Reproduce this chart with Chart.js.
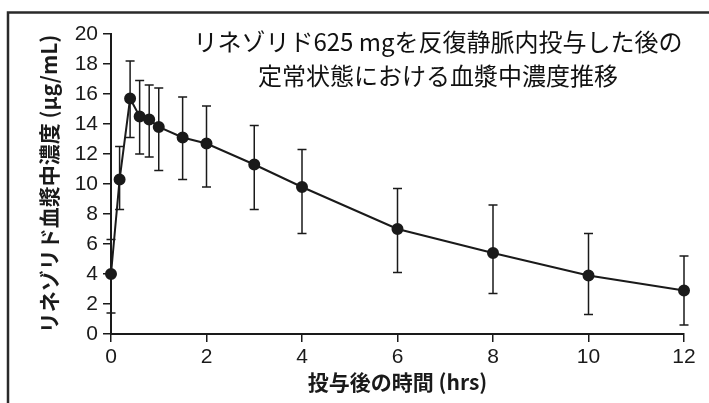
<!DOCTYPE html>
<html>
<head>
<meta charset="utf-8">
<script src="https://cdn.jsdelivr.net/npm/chart.js@4.4.1/dist/chart.umd.min.js"></script>
<style>
  html, body { margin: 0; padding: 0; background: #fff; }
  #wrap { width: 709px; height: 403px; position: relative; }
</style>
</head>
<body>
<div id="wrap"><canvas id="chart" width="709" height="403"></canvas></div>
<script>
// hours after dose
const times = [0, 0.18, 0.4, 0.6, 0.8, 1, 1.5, 2, 3, 4, 6, 8, 10, 12];
// mean concentration (ug/mL)
const means = [4.0, 10.3, 15.7, 14.5, 14.3, 13.8, 13.1, 12.7, 11.3, 9.8, 7.0, 5.4, 3.9, 2.9];
// error bar ends
const upper = [6.3, 12.5, 18.2, 16.9, 16.6, 16.4, 15.8, 15.2, 13.9, 12.3, 9.7, 8.6, 6.7, 5.2];
const lower = [1.4, 8.3, 13.1, 12.0, 11.8, 10.9, 10.3, 9.8, 8.3, 6.7, 4.1, 2.7, 1.3, 0.6];

const titleLines = ['リネゾリド625 mgを反復静脈内投与した後の', '定常状態における血漿中濃度推移'];
const xTitle = '投与後の時間 (hrs)';
const yTitle = 'リネゾリド血漿中濃度 (μg/mL)';

const ink = '#1a1a1a';
const jp = '"Noto Sans CJK JP", "Noto Sans", sans-serif';
const num = '"Liberation Sans", Arial, sans-serif';

const errorBars = {
  id: 'errorBars',
  beforeDatasetsDraw(chart) {
    const { ctx, scales: { x, y } } = chart;
    ctx.save();
    ctx.strokeStyle = ink;
    ctx.lineWidth = 1.5;
    times.forEach((t, i) => {
      const px = x.getPixelForValue(t);
      const top = y.getPixelForValue(upper[i]);
      const bot = y.getPixelForValue(lower[i]);
      ctx.beginPath();
      ctx.moveTo(px, top); ctx.lineTo(px, bot);
      ctx.moveTo(px - 4.5, top); ctx.lineTo(px + 4.5, top);
      ctx.moveTo(px - 4.5, bot); ctx.lineTo(px + 4.5, bot);
      ctx.stroke();
    });
    ctx.restore();
  }
};

const decor = {
  id: 'decor',
  afterDraw(chart) {
    const { ctx } = chart;
    ctx.save();
    // outer frame (top and left edge only)
    ctx.strokeStyle = '#2a2a2a';
    ctx.lineWidth = 2.5;
    ctx.beginPath();
    ctx.moveTo(8, 403); ctx.lineTo(8, 12.5); ctx.lineTo(709, 12.5);
    ctx.stroke();
    // title inside plot
    ctx.fillStyle = '#111';
    ctx.font = '24px ' + jp;
    ctx.textAlign = 'center';
    ctx.textBaseline = 'middle';
    ctx.fillText(titleLines[0], 438, 42);
    ctx.fillText(titleLines[1], 438, 76);
    ctx.restore();
  }
};

new Chart(document.getElementById('chart'), {
  type: 'scatter',
  data: {
    datasets: [{
      data: times.map((t, i) => ({ x: t, y: means[i] })),
      showLine: true,
      borderColor: ink,
      borderWidth: 2,
      backgroundColor: ink,
      pointRadius: 5,
      pointHoverRadius: 5,
      tension: 0,
      clip: false
    }]
  },
  options: {
    responsive: false,
    animation: false,
    layout: { padding: { left: 0, right: 25, top: 34, bottom: 0 } },
    plugins: { legend: { display: false }, tooltip: { enabled: false } },
    scales: {
      x: {
        type: 'linear',
        min: 0, max: 12,
        afterFit(scale) { scale.height = 69; },
        ticks: { stepSize: 2, color: ink, padding: 3, font: { family: num, size: 21 } },
        grid: { drawOnChartArea: false, drawTicks: true, tickLength: 8, color: ink, lineWidth: 1.5 },
        border: { display: true, color: ink, width: 2 },
        title: { display: true, text: xTitle, color: ink, padding: { top: 0, bottom: 8 },
                 font: { family: jp, size: 21, weight: 'bold' } }
      },
      y: {
        min: 0, max: 20,
        afterFit(scale) { scale.width = 111; },
        ticks: { stepSize: 2, color: ink, padding: 5, font: { family: num, size: 21 } },
        grid: { drawOnChartArea: false, drawTicks: true, tickLength: 8, color: ink, lineWidth: 1.5 },
        border: { display: true, color: ink, width: 2 },
        title: { display: true, text: yTitle, color: ink, padding: { top: 36, bottom: 0 },
                 font: { family: jp, size: 21, weight: 'bold' } }
      }
    }
  },
  plugins: [errorBars, decor]
});
</script>
</body>
</html>
